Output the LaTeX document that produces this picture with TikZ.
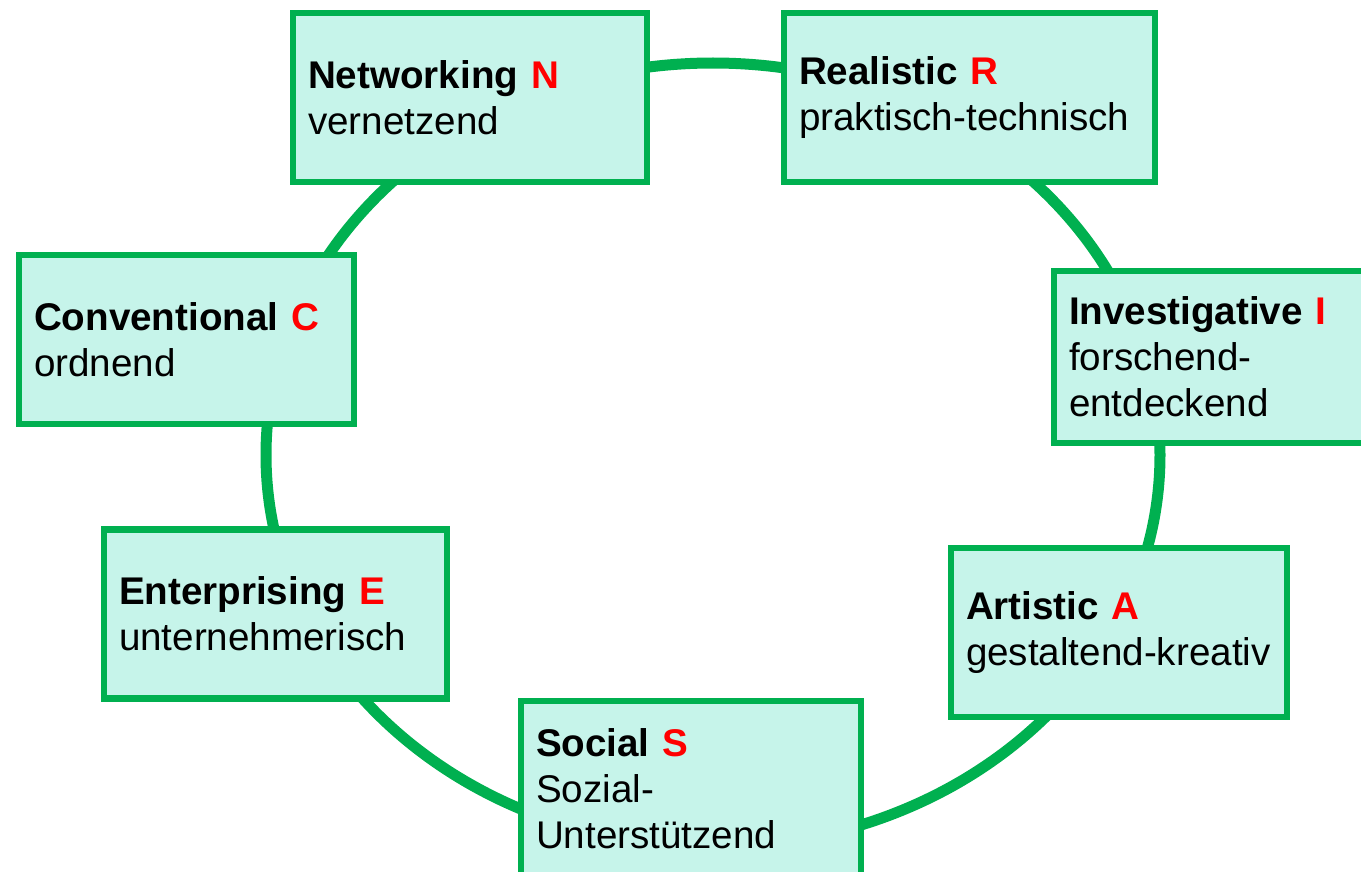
\documentclass[tikz,border=0pt]{standalone}
\usepackage{fontspec}
\setmainfont{Liberation Sans}
\usepackage{xcolor}
\usepackage{tikz}
\usetikzlibrary{shadows}

\definecolor{rahmengruen}{RGB}{0,176,80}
\definecolor{kastenfuell}{RGB}{198,244,234}
\definecolor{buchstabenrot}{RGB}{255,0,0}

\tikzset{
  kasten/.style={rectangle, draw=rahmengruen, line width=3.2pt, fill=kastenfuell,
    inner xsep=7.5pt, align=left, minimum height=84.5pt,
    font=\fontsize{19.3}{23}\selectfont,
    drop shadow={opacity=0.25, shadow xshift=0.8pt, shadow yshift=-0.8pt}},
  ring/.style={draw=rahmengruen, line width=5.5pt}
}

\begin{document}
\begin{tikzpicture}[x=0.5pt,y=-0.5pt]

\useasboundingbox (0,0) rectangle (1361,872);
\clip (0,0) rectangle (1361,872);

\draw[ring] (713,455) ellipse [x radius=447, y radius=392];		% Ring hinter den Kaesten

\node[kasten, text width=162pt] (N) at (470,97.5) {\textbf{Networking \textcolor{buchstabenrot}{N}}\\vernetzend};			% oben links
\node[kasten, text width=170.5pt] (R) at (969.5,97.5) {\textbf{Realistic \textcolor{buchstabenrot}{R}}\\praktisch-technisch};	% oben rechts
\node[kasten, text width=155pt, minimum height=86pt] (I) at (1224,357) {\textbf{Investigative \textcolor{buchstabenrot}{I}}\\forschend-\\entdeckend};	% rechts
\node[kasten, text width=153pt] (A) at (1119,632.5) {\textbf{Artistic \textcolor{buchstabenrot}{A}}\\gestaltend-kreativ};		% unten rechts
\node[kasten, text width=155pt, minimum height=88pt] (S) at (691,789) {\textbf{Social \textcolor{buchstabenrot}{S}}\\Sozial-\\Unterstützend};	% unten
\node[kasten, text width=156.5pt] (E) at (275.5,614) {\textbf{Enterprising \textcolor{buchstabenrot}{E}}\\unternehmerisch};		% unten links
\node[kasten, text width=152.5pt] (C) at (186.5,339.5) {\textbf{Conventional \textcolor{buchstabenrot}{C}}\\ordnend};			% links

\end{tikzpicture}
\end{document}
